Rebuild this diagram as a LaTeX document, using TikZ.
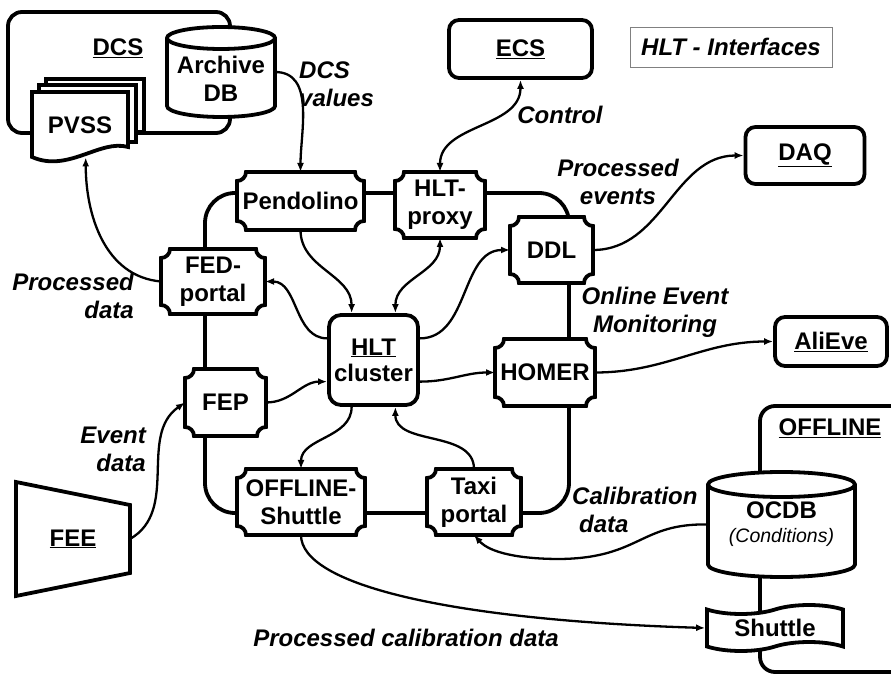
\documentclass[tikz,border=0pt]{standalone}
\usepackage{fontspec}
\setmainfont{Liberation Sans}
\usetikzlibrary{shapes.symbols,arrows.meta,calc}
\pgfdeclarelayer{bg}
\pgfsetlayers{bg,main}
\newcommand\plqr{9pt}
\newcommand\plaqueoutline[1]{%
  \filldraw[fill=white, line width=3.8pt]
    ($(#1.north west)+(\plqr,0)$) -- ($(#1.north east)+(-\plqr,0)$)
    arc[start angle=180,end angle=270,radius=\plqr]
    -- ($(#1.south east)+(0,\plqr)$)
    arc[start angle=90,end angle=180,radius=\plqr]
    -- ($(#1.south west)+(\plqr,0)$)
    arc[start angle=0,end angle=90,radius=\plqr]
    -- ($(#1.north west)+(0,-\plqr)$)
    arc[start angle=270,end angle=360,radius=\plqr]
    -- cycle;}
\newcommand\cylout[3]{%
  \filldraw[fill=white, line width=3.8pt]
    ($(#1.north west)+(0,-#3)$) -- ($(#1.south west)+(0,#3)$)
    arc[start angle=180,end angle=360,x radius=#2,y radius=#3]
    -- ($(#1.north east)+(0,-#3)$)
    arc[start angle=0,end angle=180,x radius=#2,y radius=#3] -- cycle;
  \draw[line width=3.8pt] ($(#1.north west)+(0,-#3)$)
    arc[start angle=180,end angle=360,x radius=#2,y radius=#3];}
\tikzset{
  x=1pt, y=1pt,
  every node/.style={font=\fontsize{24}{28}\selectfont\bfseries, align=center, inner sep=0pt},
  lbl/.style={font=\fontsize{24}{28}\selectfont\bfseries\itshape},
  plaque/.style 2 args={minimum width=#1pt, minimum height=#2pt, outer sep=0pt},
  rbox/.style={draw, fill=white, line width=3.8pt, rounded corners=10pt},
  shapebox/.style={line width=3.8pt},
  conn/.style={line width=2.3pt, -{Latex[length=9pt,width=7pt]}},
  conn2/.style={line width=2.3pt, {Latex[length=9pt,width=7pt]}-{Latex[length=9pt,width=7pt]}},
}
\begin{document}
\begin{tikzpicture}
\useasboundingbox (0,0) rectangle (891,675);

% ---- nodes ----
\node[minimum width=108pt, minimum height=90pt, outer sep=0pt] (arch) at (221,603) {};
\node (archtxt) at (221,596) {Archive\\DB};
\node[minimum width=96pt, minimum height=65pt, outer sep=0pt] (pvss) at (80,550) {PVSS};
\node (dcslbl) at (118,627) {\underline{DCS}};

\node[rbox, minimum width=143pt, minimum height=58pt] (ecs) at (520.5,626) {\underline{ECS}};
\node[draw=gray, line width=0.9pt, minimum width=202pt, minimum height=40pt,
      font=\fontsize{24}{28}\selectfont\bfseries\itshape] (hltif) at (731,628) {HLT - Interfaces};
\node[rbox, minimum width=119pt, minimum height=57pt] (daq) at (805,519.5) {\underline{DAQ}};
\node[rbox, minimum width=112pt, minimum height=49pt] (alieve) at (831,333.5) {\underline{AliEve}};
\node[rbox, rounded corners=12pt, minimum width=89pt, minimum height=90pt] (hlt) at (373.5,315) {\underline{HLT}\\[-2pt]cluster};

\node[plaque={127}{58}] (pend) at (300.5,474) {Pendolino};
\node[plaque={90}{66}] (proxy) at (440,470) {HLT-\\proxy};
\node[plaque={83}{66}] (ddl) at (551.5,425) {DDL};
\node[plaque={104}{65}] (fed) at (213,393.5) {FED-\\portal};
\node[plaque={81}{67}] (fep) at (225.5,272.5) {FEP};
\node[plaque={100}{67}] (homer) at (545,302.5) {HOMER};
\node[plaque={128}{66}] (offs) at (301,173) {OFFLINE-\\Shuttle};
\node[plaque={94}{66}] (taxi) at (474,173) {Taxi\\portal};

\node[minimum width=114pt, minimum height=114pt, outer sep=0pt] (fee) at (73,136) {\underline{FEE}};
\node (offlbl) at (830,247) {\underline{OFFLINE}};
\node[minimum width=147pt, minimum height=105pt, outer sep=0pt] (ocdb) at (781.5,150.5)
  {OCDB\\[-4pt]{\fontsize{19.5}{22}\selectfont\mdseries\itshape (Conditions)}};
\node[tape, draw, fill=white, line width=3.8pt, tape bend height=9pt,
      minimum width=136pt, minimum height=46pt] (shut) at (775,47) {Shuttle};

% ---- labels ----
\node[lbl, anchor=west, align=left] (dcsv) at (299,591) {DCS\\values};
\node[lbl, anchor=east, align=right] (pdata) at (134,379) {Processed\\data};
\node[lbl] (ctrl) at (560,560) {Control};
\node[lbl] (pev) at (618,493) {Processed\\events};
\node[lbl] (oem) at (655,363) {Online Event\\Monitoring};
\node[lbl, anchor=east, align=right] (evd) at (146,226) {Event\\data};
\node[lbl, anchor=west, align=left] (cald) at (572,165) {Calibration\\\hspace*{7pt}data};
\node[lbl] (pcd) at (406,37) {Processed calibration data};

% ---- background shapes ----
\begin{pgfonlayer}{bg}
  \fill[white] (0,0) rectangle (891,675);
  \draw[shapebox, rounded corners=14pt] (8,542) rectangle (230,663);
  \filldraw[shapebox, fill=white] (46,543) rectangle (144,596);
  \filldraw[shapebox, fill=white] (39,533) rectangle (136,590);
  \filldraw[shapebox, fill=white] (32,518) -- (32,583) -- (128,583) -- (128,528)
     .. controls (100,536) and (68,502) .. (32,518) -- cycle;
  \cylout{arch}{54pt}{11pt}
  \begin{scope}
    \clip (0,0) rectangle (891,675);
    \draw[shapebox, rounded corners=15pt] (760,3) rectangle (930,269);
  \end{scope}
  \cylout{ocdb}{73.5pt}{12.5pt}
  \filldraw[shapebox, fill=white] (fee.north west) -- ($(fee.north east)+(0,-23)$)
     -- ($(fee.south east)+(0,23)$) -- (fee.south west) -- cycle;
  \draw[shapebox, rounded corners=30pt] (205,162) rectangle (569,482);
  \foreach \n in {pend,proxy,ddl,fed,fep,homer,offs,taxi} {\plaqueoutline{\n}}
\end{pgfonlayer}

% ---- connectors ----
\draw[conn] (arch.east) to[out=0,in=90] (pend.north);
\draw[conn] (fed.west) to[out=175,in=-90] (pvss.-80);
\draw[conn2] (proxy.north) to[out=90,in=-90] (ecs.south);
\draw[conn] (ddl.east) to[out=0,in=180] (daq.west);
\draw[conn] (homer.east) to[out=0,in=180] (alieve.west);
\draw[conn] (pend.south) to[out=-90,in=90] (hlt.115);
\draw[conn2] (proxy.south) to[out=-90,in=90] (hlt.65);
\draw[conn] (hlt.25) to[out=0,in=180] (ddl.west);
\draw[conn] (hlt.155) to[out=180,in=0] (fed.east);
\draw[conn] (fep.east) to[out=0,in=180] (hlt.205);
\draw[conn] (hlt.335) to[out=0,in=180] (homer.west);
\draw[conn] (hlt.245) to[out=-90,in=90] (offs.north);
\draw[conn] (taxi.north) to[out=90,in=-90] (hlt.295);
\draw[conn] (ocdb.west) .. controls (640,152) and (640,117) .. (560,116)
   .. controls (520,116) and (490,122) .. (taxi.south);
\draw[conn] (offs.south) .. controls (301,90) and (450,55) .. (shut.west);
\draw[conn] (fee.east) to[out=30,in=215] (fep.west);
\end{tikzpicture}
\end{document}
